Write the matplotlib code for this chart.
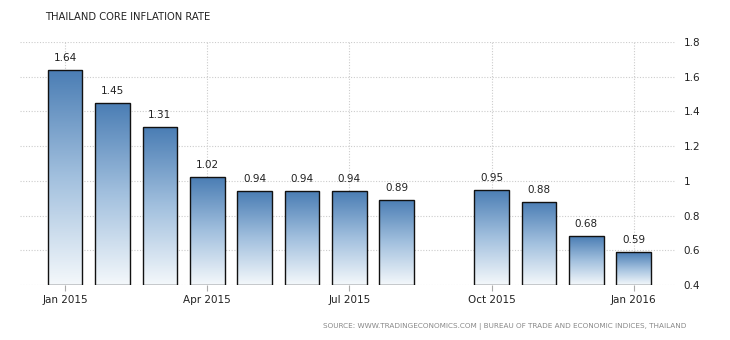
import numpy as np
import matplotlib
matplotlib.use("Agg")
import matplotlib.pyplot as plt
from matplotlib.colors import LinearSegmentedColormap

months = ["Jan 2015", "Feb 2015", "Mar 2015", "Apr 2015", "May 2015", "Jun 2015",
          "Jul 2015", "Aug 2015", "Sep 2015", "Oct 2015", "Nov 2015", "Dec 2015", "Jan 2016"]
values = [1.64, 1.45, 1.31, 1.02, 0.94, 0.94, 0.94, 0.89, np.nan, 0.95, 0.88, 0.68, 0.59]
tick_labels = ["Jan 2015", "Apr 2015", "Jul 2015", "Oct 2015", "Jan 2016"]
y_ticks = [0.4, 0.6, 0.8, 1.0, 1.2, 1.4, 1.6, 1.8]
y_tick_labels = ["0.4", "0.6", "0.8", "1", "1.2", "1.4", "1.6", "1.8"]
base = 0.4

fig = plt.figure(figsize=(7.3, 3.4), dpi=100)
ax = fig.add_axes([20/730, (340-285)/340, (675-20)/730, (285-42)/340])

x = np.arange(len(months))
ticks_pos = [months.index(t) for t in tick_labels]

ax.set_xlim(-0.95, len(months) - 1 + 0.87)
ax.set_ylim(0.4, 1.8)

ax.set_axisbelow(True)
ax.grid(axis="both", color="#cccccc", linestyle=(0, (1, 1.5)), linewidth=0.8)

cmap = LinearSegmentedColormap.from_list("g", ["#f4f8fb", "#a2c0de", "#4a7db4"])
grad = np.linspace(0, 1, 256).reshape(-1, 1)

heights = [v - base if not np.isnan(v) else 0 for v in values]
bars = ax.bar(x, heights, bottom=base, width=0.73, facecolor="none",
              edgecolor="#111111", linewidth=1.0, zorder=3)
for b, v in zip(bars, values):
    if np.isnan(v):
        b.set_visible(False)
        continue
    x0, y0 = b.get_x(), b.get_y()
    w, h = b.get_width(), b.get_height()
    im = ax.imshow(grad, extent=[x0, x0 + w, y0, y0 + h], origin="lower",
                   aspect="auto", cmap=cmap, zorder=2)
    im.set_clip_path(b)
    ax.text(x0 + w/2, y0 + h + 0.04, f"{v:.2f}", ha="center", va="bottom",
            fontsize=7.5, color="#222222", zorder=4)

ax.set_xticks(ticks_pos)
ax.set_xticklabels(tick_labels, fontsize=7.5, color="#222222")
ax.set_yticks(y_ticks)
ax.set_yticklabels(y_tick_labels, fontsize=7.5, color="#222222")
ax.yaxis.tick_right()
ax.tick_params(axis="y", length=0, pad=6)
ax.tick_params(axis="x", length=4, color="#aaaaaa", pad=3)
for s in ax.spines.values():
    s.set_visible(False)

fig.text(45/730, 1 - 17/340, "THAILAND CORE INFLATION RATE", fontsize=7.2,
         color="#222222", va="center", ha="left")
fig.text(686/730, 1 - 326/340,
         "SOURCE: WWW.TRADINGECONOMICS.COM | BUREAU OF TRADE AND ECONOMIC INDICES, THAILAND",
         fontsize=5.2, color="#888888", va="center", ha="right")

fig.savefig("out.png", dpi=100)
